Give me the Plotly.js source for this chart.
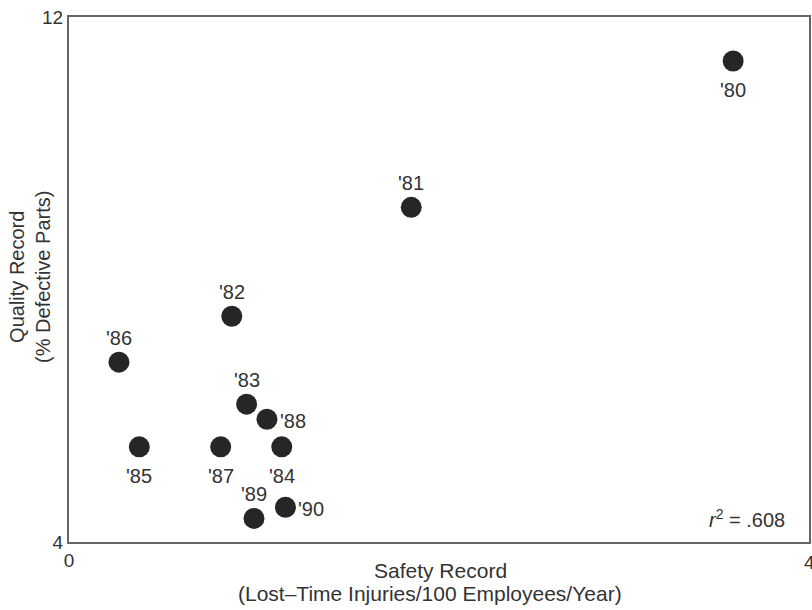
<!DOCTYPE html>
<html>
<head>
<meta charset="utf-8">
<script src="https://cdn.plot.ly/plotly-3.0.1.min.js"></script>
<style>html,body{margin:0;padding:0;background:#fff;}#chart{width:812px;height:610px;}</style>
</head>
<body>
<div id="chart"></div>
<script>
const years = ["'80","'81","'82","'86","'83","'88","'85","'87","'84","'89","'90"];
const safety = [3.59, 1.85, 0.88, 0.27, 0.96, 1.07, 0.38, 0.82, 1.15, 1.00, 1.17];
const quality = [11.33, 9.10, 7.44, 6.74, 6.10, 5.87, 5.45, 5.45, 5.45, 4.36, 4.53];
const labelSide = ["below","above","above","above","above","right","below","below","below","above","right"];
const xTicks = [0, 4];
const yTicks = [4, 12];
const xTitleLines = ["Safety Record", "(Lost–Time Injuries/100 Employees/Year)"];
const yTitleLines = ["Quality Record", "(% Defective Parts)"];

const font = "Liberation Sans, Arial, Helvetica, sans-serif";
const ink = "#333333";

const trace = {
  x: safety, y: quality,
  mode: "markers", type: "scatter",
  marker: {size: 21, color: "#262626"},
  cliponaxis: false, hoverinfo: "skip"
};

const axisCommon = {
  showgrid: false, zeroline: false, showline: true, mirror: true,
  linecolor: "#666666", linewidth: 2, ticks: "",
  tickfont: {family: font, size: 19, color: ink}, fixedrange: true
};

const labelAnns = years.map((t, i) => {
  const side = labelSide[i];
  const a = {xref: "x", yref: "y", x: safety[i], y: quality[i], text: t, showarrow: false,
             font: {family: font, size: 20, color: ink}, yanchor: "middle", xanchor: "center"};
  if (side === "above") a.yshift = 24;
  else if (side === "below") a.yshift = -29;
  else { a.xanchor = "left"; a.xshift = 11; a.yshift = -2; }
  return a;
});

const layout = {
  width: 812, height: 610,
  margin: {l: 69, r: 3, t: 17, b: 68},
  paper_bgcolor: "#fff", plot_bgcolor: "#fff",
  showlegend: false,
  xaxis: Object.assign({}, axisCommon, {range: [0, 4], tickvals: xTicks, ticktext: xTicks.map(String)}),
  yaxis: Object.assign({}, axisCommon, {range: [4, 12], tickvals: yTicks, ticktext: yTicks.map(String)}),
  annotations: labelAnns.concat([
    {xref: "x", yref: "paper", x: xTicks[1], y: 0, xanchor: "center", yanchor: "top", yshift: -8,
     text: String(xTicks[1]), showarrow: false, font: {family: font, size: 19, color: ink}},
    {xref: "paper", yref: "paper", x: 0.97, y: 0.044, xanchor: "right", yanchor: "middle",
     text: "<i>r</i><sup>2</sup> = .608", showarrow: false, font: {family: font, size: 20, color: ink}},
    {xref: "paper", yref: "paper", x: 0.5015, y: 0, xanchor: "center", yanchor: "middle", yshift: -28,
     text: xTitleLines[0], showarrow: false, font: {family: font, size: 21, color: ink}},
    {xref: "paper", yref: "paper", x: 0.488, y: 0, xanchor: "center", yanchor: "middle", yshift: -51,
     text: xTitleLines[1], showarrow: false, font: {family: font, size: 21, color: ink}},
    {xref: "paper", yref: "paper", x: 0, y: 0.505, xanchor: "center", yanchor: "middle", xshift: -52,
     textangle: -90, text: yTitleLines[0], showarrow: false, font: {family: font, size: 20, color: ink}},
    {xref: "paper", yref: "paper", x: 0, y: 0.505, xanchor: "center", yanchor: "middle", xshift: -26,
     textangle: -90, text: yTitleLines[1], showarrow: false, font: {family: font, size: 20, color: ink}}
  ])
};

Plotly.newPlot("chart", [trace], layout, {staticPlot: true, displayModeBar: false});
</script>
</body>
</html>
